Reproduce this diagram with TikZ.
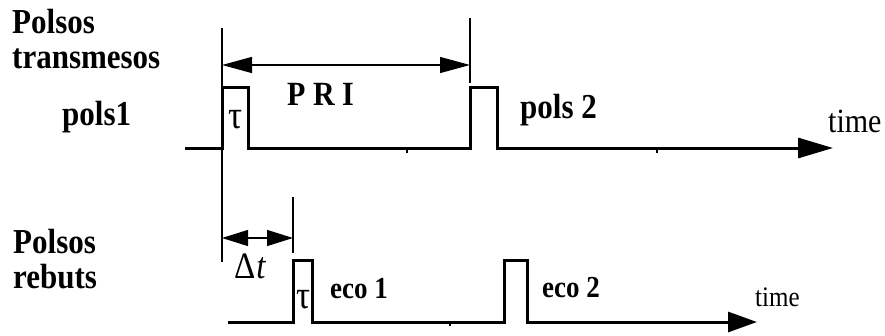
\documentclass[tikz,border=0pt]{standalone}
\usepackage{fontspec}
\usepackage{graphicx}
\setmainfont{Liberation Serif}
\usetikzlibrary{arrows.meta}
% tall, slightly condensed lettering
\newcommand{\tallglyphs}[1]{\scalebox{1}[1.13]{#1}}
\begin{document}
\begin{tikzpicture}[x=1pt,y=-1pt,
  signal/.style={line width=3pt,line join=miter},
  guide/.style={line width=1.2pt},
  toptip/.style={-{Triangle[length=35pt,width=20pt]}},
  bottip/.style={-{Triangle[length=29pt,width=20pt]}},
  dimarrow/.style={guide,{Triangle[length=#1,width=16pt]}-{Triangle[length=#1,width=16pt]}},
  tick/.style={line width=2pt},
  lbl/.style={anchor=base west,inner sep=0pt,font=\fontsize{31}{35}\selectfont\bfseries},
  ecolbl/.style={anchor=base west,inner sep=0pt,font=\fontsize{27}{31}\selectfont\bfseries},
  axislbl/.style={anchor=base west,inner sep=0pt,font=\fontsize{#1}{#1}\selectfont},
  greek/.style={inner sep=0pt,font=\fontsize{35}{38}\selectfont},
]
\useasboundingbox (0,0) rectangle (885,335);

% transmitted pulse train
\coordinate (t0) at (185,148);
\coordinate (p1a) at (222,148);
\coordinate (p1b) at (222,87);
\coordinate (p1c) at (248,87);
\coordinate (p1d) at (248,148);
\coordinate (p2a) at (470,148);
\coordinate (p2b) at (470,87);
\coordinate (p2c) at (497,87);
\coordinate (p2d) at (497,148);
\coordinate (tend) at (833,148);
\draw[signal,toptip] (t0) -- (p1a) -- (p1b) -- (p1c) -- (p1d) -- (p2a)
  -- (p2b) -- (p2c) -- (p2d) -- (tend);

% received echo train
\coordinate (b0) at (228,322);
\coordinate (e1a) at (293,322);
\coordinate (e1b) at (293,260);
\coordinate (e1c) at (312,260);
\coordinate (e1d) at (312,322);
\coordinate (e2a) at (504,322);
\coordinate (e2b) at (504,260);
\coordinate (e2c) at (527,260);
\coordinate (e2d) at (527,322);
\coordinate (bend) at (757,322);
\draw[signal,bottip] (b0) -- (e1a) -- (e1b) -- (e1c) -- (e1d) -- (e2a)
  -- (e2b) -- (e2c) -- (e2d) -- (bend);

% small ticks on the time axes
\coordinate (k1a) at (407,148); \coordinate (k1b) at (407,153);
\coordinate (k2a) at (657,148); \coordinate (k2b) at (657,153);
\coordinate (k3a) at (450,322); \coordinate (k3b) at (450,326);
\draw[tick] (k1a) -- (k1b);
\draw[tick] (k2a) -- (k2b);
\draw[tick] (k3a) -- (k3b);

% reference lines
\coordinate (g1top) at (222,28);
\coordinate (g1bot) at (222,262);
\coordinate (g2top) at (470,18);
\coordinate (g2bot) at (470,83);
\coordinate (g3top) at (293,197);
\coordinate (g3bot) at (293,253);
\draw[guide] (g1top) -- (g1bot);
\draw[guide] (g2top) -- (g2bot);
\draw[guide] (g3top) -- (g3bot);

% PRI and delay dimension arrows
\coordinate (priL) at (222,65);
\coordinate (priR) at (470,65);
\draw[dimarrow=30pt] (priL) -- (priR);
\coordinate (dtL) at (222,238);
\coordinate (dtR) at (293,238);
\draw[dimarrow=26pt] (dtL) -- (dtR);

% labels
\node[lbl] (txa) at (12,33) {\tallglyphs{Polsos}};
\node[lbl] (txb) at (12,68) {\tallglyphs{transmesos}};
\node[lbl] (pols1) at (62,125) {\tallglyphs{pols1}};
\node[lbl,font=\fontsize{30}{34}\selectfont\bfseries] (pri) at (287,105) {\tallglyphs{P R I}};
\node[lbl] (pols2) at (520,118) {\tallglyphs{pols 2}};
\node[axislbl=30] (time1) at (828,132) {\tallglyphs{time}};
\node[greek] (tau1) at (236,120) {\tallglyphs{τ}};

\node[lbl] (rxa) at (13,253) {\tallglyphs{Polsos}};
\node[lbl] (rxb) at (13,288) {\tallglyphs{rebuts}};
\node[axislbl=33] (dt) at (234,278) {\tallglyphs{Δ\kern1pt\textit{t}}};
\node[greek] (tau2) at (304,300) {\tallglyphs{τ}};
\node[ecolbl] (eco1) at (330,298) {\tallglyphs{eco 1}};
\node[ecolbl] (eco2) at (542,297) {\tallglyphs{eco 2}};
\node[axislbl=25] (time2) at (755,306) {\tallglyphs{time}};
\end{tikzpicture}
\end{document}
